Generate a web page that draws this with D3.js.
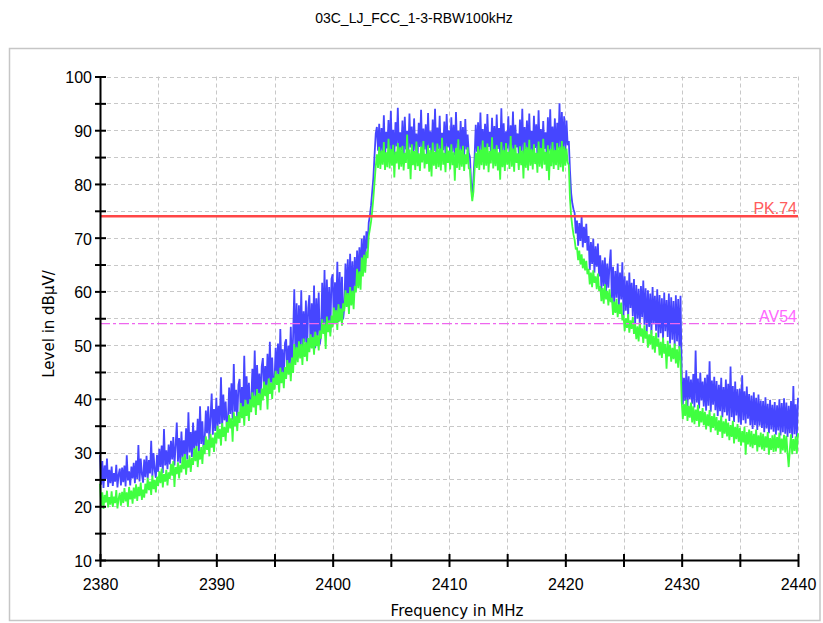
<!DOCTYPE html>
<html><head><meta charset="utf-8">
<script src="https://cdn.jsdelivr.net/npm/d3@7"></script>
<style>body{margin:0;background:#fff} svg{display:block}</style>
</head><body><svg id="c" width="823" height="623"></svg>
<script>
const chartTitle = "03C_LJ_FCC_1-3-RBW100kHz";
const xLabel = "Frequency in MHz";
const yLabel = "Level in dBµV/";
const fStart = 2380, fStep = 0.1;
const xTickLabels = [2380, 2390, 2400, 2410, 2420, 2430, 2440];
const yTickLabels = [10, 20, 30, 40, 50, 60, 70, 80, 90, 100];
const limitNames = ["PK.74", "AV54"];
const limitValues = [74, 54];

const peakTrace = [
29.6,24.0,28.4,23.4,27.6,25.1,28.9,23.6,26.8,24.3,
27.4,23.8,26.2,24.6,27.7,23.5,25.9,27.0,23.9,27.2,
24.5,27.6,23.7,29.5,24.8,26.5,23.9,27.4,25.2,28.1,
24.3,28.5,25.1,31.4,24.6,28.9,26.0,24.4,28.7,25.4,
29.4,25.2,28.6,26.1,32.2,25.5,29.9,26.8,25.3,29.6,
26.4,30.7,27.3,31.3,26.2,34.4,27.6,30.4,26.9,31.5,
27.8,32.2,28.7,32.9,27.6,31.3,35.6,28.3,32.7,28.0,
33.9,28.9,32.3,29.5,34.5,28.7,37.5,30.0,33.8,29.2,
35.6,30.4,34.1,31.2,36.3,30.1,38.6,31.6,35.8,30.7,
32.4,37.8,33.6,38.6,32.2,36.6,41.0,33.3,38.1,34.0,
40.2,34.4,38.7,35.3,44.0,34.6,40.8,36.0,39.5,34.8,
35.9,42.1,37.2,42.9,36.1,46.5,37.6,41.7,35.8,42.6,
43.7,37.5,42.2,37.3,48.0,38.2,44.2,38.8,43.0,37.6,
39.4,45.6,40.3,49.0,39.5,46.3,41.0,44.7,39.3,46.0,
47.6,41.3,46.1,42.1,48.4,41.6,50.6,43.0,47.7,41.8,
43.3,49.5,44.5,50.3,43.1,53.0,44.8,49.2,43.8,50.4,
51.1,45.0,49.9,45.8,53.4,45.2,51.7,60.4,47.6,57.8,
48.2,57.4,49.6,60.2,48.0,56.3,50.5,58.3,48.7,56.9,
59.3,49.6,57.8,51.2,61.1,49.4,58.7,51.7,59.8,50.1,
51.9,61.6,53.2,64.0,51.7,62.2,53.9,60.8,52.4,62.3,
63.2,54.0,61.7,55.2,65.5,54.3,63.6,55.9,62.7,54.8,
57.0,65.2,58.3,66.0,57.4,67.0,59.0,65.6,58.4,66.4,
61.0,67.6,62.2,68.2,62.8,69.8,64.0,70.4,65.3,71.2,
68.0,72.8,74.1,76.0,78.6,81.2,85.4,89.3,90.6,86.2,
91.2,85.3,90.4,86.1,92.8,84.9,89.7,86.6,91.9,85.2,
93.6,86.0,90.1,85.4,91.5,87.0,94.2,85.8,89.6,86.3,
91.8,84.8,92.5,86.4,89.9,85.5,93.1,86.8,90.7,85.1,
92.2,86.2,89.4,85.0,91.4,86.9,93.8,85.6,90.3,86.4,
91.1,85.3,93.2,86.7,89.8,85.2,92.0,86.1,94.0,85.7,
90.5,86.5,92.7,85.1,89.5,86.3,91.6,85.4,93.0,86.8,
90.0,85.6,92.4,86.0,91.0,85.3,93.4,86.6,89.9,85.5,
91.7,86.1,90.6,85.0,92.1,86.4,89.2,85.8,85.0,80.2,
77.6,81.0,85.0,91.0,86.0,91.5,85.4,93.3,86.2,90.2,
86.4,91.2,85.2,93.0,86.9,89.7,85.6,92.3,86.3,90.8,
85.1,92.9,86.5,90.4,85.4,94.1,86.0,91.3,85.7,89.8,
86.6,92.6,85.3,90.9,86.2,93.5,85.0,91.0,86.8,89.4,
85.5,92.0,86.1,94.0,85.2,90.6,86.4,91.8,85.6,93.1,
86.3,89.9,85.4,92.7,86.7,91.1,85.1,93.7,86.0,90.2,
85.8,91.7,86.5,89.6,85.3,92.4,86.2,93.9,85.5,90.7,
86.1,92.2,85.0,91.4,86.6,95.0,85.7,93.4,86.4,92.6,
85.9,91.8,87.2,88.0,82.5,78.3,76.4,75.3,74.6,70.8,
73.2,68.5,72.7,69.4,73.9,68.2,72.0,69.0,72.6,67.6,
70.3,64.0,69.2,65.1,69.8,63.5,68.4,64.6,68.9,62.8,
66.7,60.2,65.8,61.0,66.3,59.8,65.2,60.7,64.9,67.8,
58.0,64.6,57.6,63.8,58.8,65.2,57.3,63.5,58.5,65.4,
55.6,62.8,56.4,62.0,55.2,63.5,56.9,61.6,55.4,62.3,
54.0,61.2,54.9,60.5,53.6,61.0,55.2,62.0,53.8,60.6,
52.5,60.2,53.4,59.6,52.1,60.8,53.9,59.2,52.7,60.4,
51.4,59.3,52.2,58.7,51.1,59.8,52.6,58.4,51.5,59.6,
50.3,58.9,51.0,58.2,49.8,59.3,50.7,58.6,49.5,59.2,
44.8,38.9,43.9,39.6,45.3,38.6,44.2,40.0,43.6,39.1,
44.6,38.4,49.0,39.3,43.8,38.2,44.9,39.7,43.2,38.6,
43.9,37.8,44.5,38.7,47.0,37.6,43.4,38.9,44.1,37.9,
43.3,36.8,42.6,37.7,43.9,36.6,42.2,37.5,43.6,36.9,
42.8,35.9,46.0,36.6,42.4,35.7,43.2,36.9,41.8,35.6,
41.9,35.2,44.4,36.0,41.4,35.4,42.3,36.3,40.9,35.1,
40.6,34.4,41.2,35.1,40.2,34.2,40.8,35.0,39.7,34.6,
39.6,33.8,40.3,34.5,39.1,33.6,39.8,34.3,38.9,33.9,
39.4,33.3,38.8,34.1,39.9,33.2,39.2,33.8,40.1,33.5,
39.3,32.9,38.7,33.6,39.6,32.7,42.4,33.4,39.0,32.8,
40.2
];

const avgTrace = [
24.2,20.0,22.6,19.5,22.1,20.7,22.9,19.8,21.7,20.3,
22.8,19.9,21.8,20.6,23.0,19.6,21.4,22.5,20.1,22.7,
20.6,23.4,20.9,22.6,19.9,23.6,21.3,22.9,20.5,23.5,
21.4,24.1,21.0,23.6,21.9,24.4,21.2,23.1,21.6,24.2,
22.4,25.3,23.0,24.6,22.1,25.7,23.2,24.9,22.6,25.5,
23.8,26.5,24.3,27.0,23.5,26.0,24.6,26.8,23.9,26.3,
25.1,27.9,25.7,28.4,23.6,27.3,26.0,28.2,25.2,27.7,
26.3,29.2,26.9,29.7,25.9,28.7,27.2,29.5,26.4,29.0,
27.7,30.8,28.4,31.2,27.3,30.3,28.7,31.0,27.9,31.4,
29.7,33.0,30.5,32.4,29.3,33.5,30.9,32.8,30.1,33.7,
31.7,35.0,32.6,34.4,31.3,35.5,32.9,34.8,32.1,35.7,
33.7,37.0,34.5,36.4,32.0,37.5,34.9,36.8,34.0,37.6,
35.5,39.2,36.4,38.6,35.0,39.8,36.8,39.0,35.9,39.9,
37.5,41.2,38.4,40.6,37.0,41.8,38.8,41.0,37.9,41.9,
39.7,43.2,40.5,42.6,38.0,43.8,40.9,43.0,40.0,43.9,
41.7,45.2,42.6,44.6,41.2,45.8,42.9,45.0,42.0,45.9,
43.7,47.2,44.5,46.7,43.3,47.7,44.8,50.2,46.3,49.6,
46.8,50.7,47.5,50.2,46.3,51.2,47.8,50.5,47.0,51.3,
48.7,52.0,49.4,51.5,48.2,52.5,49.8,51.8,49.0,52.7,
51.2,54.8,52.1,54.2,49.3,55.3,52.4,54.6,51.6,55.5,
53.3,57.0,54.1,56.5,52.8,57.6,54.4,56.8,53.6,57.8,
56.3,60.2,57.1,59.7,55.8,60.8,57.4,60.1,56.7,61.0,
59.8,64.2,60.6,63.7,60.3,66.3,62.8,66.8,63.5,67.4,
66.2,70.3,71.6,73.0,75.0,77.4,80.3,83.2,85.5,83.0,
86.9,82.8,86.2,83.6,87.8,82.6,85.9,83.1,88.4,82.9,
86.5,83.4,87.3,81.2,86.0,83.8,87.6,82.7,86.8,83.2,
87.1,82.5,85.8,83.9,89.2,82.8,86.4,80.9,87.4,83.5,
86.1,82.6,87.9,83.3,85.7,82.4,86.9,84.0,88.0,82.9,
85.6,83.7,87.2,82.3,86.3,81.4,87.7,83.4,86.0,82.8,
87.5,83.1,86.6,82.5,88.6,83.6,85.8,82.2,87.0,83.9,
86.2,82.7,87.4,83.5,85.9,80.6,86.7,83.0,88.3,82.6,
86.4,83.2,87.1,82.4,85.5,83.7,86.8,82.9,82.8,79.0,
76.8,78.5,82.5,85.8,83.0,87.0,82.6,86.4,83.5,88.1,
82.7,86.8,83.4,87.5,82.2,86.1,83.8,88.7,82.9,86.5,
83.3,87.2,82.5,85.9,80.8,87.8,83.1,86.3,82.4,87.6,
83.6,86.0,82.8,88.9,83.2,86.6,82.3,87.3,83.9,85.7,
82.6,87.0,83.5,86.2,81.0,87.7,83.0,86.8,82.5,88.2,
83.4,86.4,82.7,87.4,83.7,85.8,82.1,87.9,83.2,86.7,
82.9,88.4,83.6,86.0,82.4,87.2,80.7,86.5,83.3,87.8,
82.8,86.3,83.5,87.6,82.6,86.9,83.1,88.0,82.3,87.0,
83.4,86.6,84.0,83.5,77.2,74.0,72.1,70.6,69.6,67.8,
68.2,65.8,67.6,65.0,66.9,64.3,66.1,63.9,65.7,63.2,
64.2,61.3,63.5,60.8,63.9,61.6,62.8,60.4,63.3,60.1,
61.0,58.2,60.6,57.7,61.3,58.5,60.1,57.4,60.4,58.0,
58.8,55.6,58.1,56.0,58.6,55.2,57.6,55.8,57.9,54.6,
55.6,52.6,55.0,53.2,55.8,52.3,54.6,53.0,55.2,52.1,
54.0,51.1,53.5,50.7,54.2,51.6,53.1,50.4,53.7,51.2,
52.6,49.5,52.0,50.1,52.8,49.2,51.7,48.6,52.3,49.7,
51.2,48.1,50.6,47.6,51.4,48.4,50.2,45.6,50.8,47.9,
50.1,46.9,49.5,47.4,50.3,46.6,49.2,45.8,49.8,47.1,
39.6,36.2,39.0,36.8,39.8,35.9,38.7,36.5,39.3,35.6,
38.6,35.3,38.0,35.9,38.9,34.8,37.7,35.6,38.3,35.1,
37.6,34.3,37.1,34.9,37.9,33.8,36.8,34.6,37.3,34.1,
36.6,33.3,36.0,33.9,36.9,32.7,35.8,33.5,36.3,33.0,
35.6,32.3,35.1,32.9,35.9,31.7,34.8,32.5,35.3,32.0,
34.6,31.3,34.0,31.9,34.8,29.6,33.8,31.5,34.3,31.1,
34.0,30.8,33.5,31.4,34.3,30.2,33.2,31.0,33.7,30.6,
33.5,30.3,33.0,30.9,33.8,29.6,32.7,30.5,33.2,30.1,
33.4,30.2,32.9,30.8,33.7,29.8,32.6,30.4,33.3,30.0,
33.1,29.9,27.3,30.6,33.4,29.7,32.5,30.3,33.0,29.8,
33.6
];

const W = 823, H = 623;
const tickFont = "'Liberation Sans', Arial, sans-serif";
const titleFont = "'DejaVu Sans', Verdana, sans-serif";
const svg = d3.select("#c");
svg.append("rect").attr("width", W).attr("height", H).attr("fill", "#fff");
svg.append("rect").attr("x", 9.5).attr("y", 48.5).attr("width", 810.5).attr("height", 572)
  .attr("fill", "none").attr("stroke", "#c6c6c6").attr("stroke-width", 1.5);

const x = d3.scaleLinear().domain([xTickLabels[0], xTickLabels[xTickLabels.length - 1]]).range([100, 798]);
const y = d3.scaleLinear().domain([yTickLabels[0], yTickLabels[yTickLabels.length - 1]]).range([560, 76.5]);
const xAll = x.ticks(12), yAll = y.ticks(18);

// title
svg.append("text").attr("x", 414).attr("y", 23).attr("text-anchor", "middle")
  .style("font-family", tickFont).style("font-size", "14px").attr("fill", "#000").text(chartTitle);

// grid
const grid = svg.append("g").attr("stroke", "#c8c8c8").attr("stroke-width", 1).attr("stroke-dasharray", "4,3");
grid.selectAll("line.h").data(yAll.filter(v => v > y.domain()[0])).join("line")
  .attr("x1", x.range()[0]).attr("x2", x.range()[1]).attr("y1", d => Math.round(y(d)) + 0.5).attr("y2", d => Math.round(y(d)) + 0.5);
grid.selectAll("line.v").data(xAll.filter(v => v > x.domain()[0])).join("line")
  .attr("y1", y.range()[1]).attr("y2", y.range()[0]).attr("x1", d => Math.round(x(d)) + 0.5).attr("x2", d => Math.round(x(d)) + 0.5);

// traces
const line = d3.line().x((d, i) => x(fStart + i * fStep)).y(d => y(d));
svg.append("path").datum(peakTrace).attr("d", line).attr("fill", "none")
  .attr("stroke", "#4646ff").attr("stroke-width", 1.8).attr("stroke-linejoin", "bevel");
svg.append("path").datum(avgTrace).attr("d", line).attr("fill", "none")
  .attr("stroke", "#40ff40").attr("stroke-width", 1.8).attr("stroke-linejoin", "bevel");

// limit lines
const limColors = ["#ff4646", "#ee66ee"];
const limTextColors = ["#ff5c5c", "#ff66ff"];
limitValues.forEach((v, i) => {
  svg.append("line").attr("x1", x.range()[0]).attr("x2", x.range()[1])
    .attr("y1", y(v)).attr("y2", y(v)).attr("stroke", limColors[i])
    .attr("stroke-width", i === 0 ? 2.5 : 1.2)
    .attr("stroke-dasharray", i === 0 ? null : "10,3,3,3");
  svg.append("text").attr("x", x.range()[1] - 1).attr("y", y(v) - 2)
    .attr("text-anchor", "end").style("font-family", tickFont).style("font-size", "16px")
    .attr("fill", limTextColors[i]).text(limitNames[i]);
});

// axes
function styleAxis(g) {
  g.selectAll("path.domain").attr("stroke", "#000").attr("stroke-width", 2);
  g.selectAll(".tick line").attr("stroke", "#000").attr("stroke-width", 2);
  g.selectAll(".tick text").style("font-family", tickFont).style("font-size", "16px").attr("fill", "#000");
}
const fmtY = d => (yTickLabels.includes(d) ? d : "");
const fmtX = d => (xTickLabels.includes(d) ? d : "");
const gy = svg.append("g").attr("transform", "translate(100,0)")
  .call(d3.axisLeft(y).tickValues(yAll).tickFormat(fmtY).tickSize(5).tickPadding(3).tickSizeOuter(0));
styleAxis(gy);
gy.selectAll(".tick text").attr("dy", "0.4em");
const gy2 = svg.append("g").attr("transform", "translate(100,0)")
  .call(d3.axisRight(y).tickValues(yAll).tickFormat("").tickSize(6).tickSizeOuter(0));
styleAxis(gy2); gy2.select("path.domain").remove();

const gx = svg.append("g").attr("transform", "translate(0,560)")
  .call(d3.axisBottom(x).tickValues(xAll).tickFormat(fmtX).tickSize(7).tickPadding(12).tickSizeOuter(0));
styleAxis(gx);
const gx2 = svg.append("g").attr("transform", "translate(0,560)")
  .call(d3.axisTop(x).tickValues(xAll).tickFormat("").tickSize(6).tickSizeOuter(0));
styleAxis(gx2); gx2.select("path.domain").remove();

// axis titles
svg.append("text").attr("transform", "translate(53.5,324) rotate(-90)").attr("text-anchor", "middle")
  .style("font-family", titleFont).style("font-size", "15px").attr("fill", "#000").text(yLabel);
svg.append("text").attr("x", 457).attr("y", 616).attr("text-anchor", "middle")
  .style("font-family", titleFont).style("font-size", "15px").attr("fill", "#000").text(xLabel);
</script></body></html>
